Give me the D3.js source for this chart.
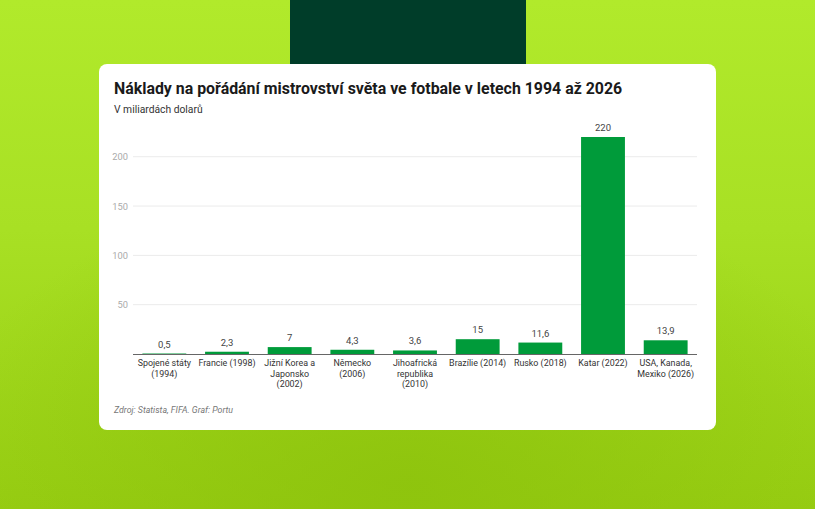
<!DOCTYPE html>
<html>
<head>
<meta charset="utf-8">
<script src="https://cdn.jsdelivr.net/npm/d3@7"></script>
<style>
  html, body { margin: 0; padding: 0; }
  body { width: 815px; height: 509px; overflow: hidden; font-family: Roboto, "Noto Sans", sans-serif; }
</style>
</head>
<body>
<svg id="chart" width="815" height="509"></svg>
<script>
const categories = [
  ["Spojené státy", "(1994)"],
  ["Francie (1998)"],
  ["Jižní Korea a", "Japonsko", "(2002)"],
  ["Německo", "(2006)"],
  ["Jihoafrická", "republika", "(2010)"],
  ["Brazílie (2014)"],
  ["Rusko (2018)"],
  ["Katar (2022)"],
  ["USA, Kanada,", "Mexiko (2026)"],
];
const values = [0.5, 2.3, 7, 4.3, 3.6, 15, 11.6, 220, 13.9];
const yTicks = [50, 100, 150, 200];

const title = "Náklady na pořádání mistrovství světa ve fotbale v letech 1994 až 2026";
const subtitle = "V miliardách dolarů";
const source = "Zdroj: Statista, FIFA. Graf: Portu";

const svg = d3.select("#chart");
const W = 815, H = 509;

// background
const defs = svg.append("defs");
const lin = defs.append("linearGradient").attr("id", "bg").attr("x1", 0).attr("y1", 0).attr("x2", 0).attr("y2", 1);
lin.append("stop").attr("offset", "0%").attr("stop-color", "#b1ea2b");
lin.append("stop").attr("offset", "45%").attr("stop-color", "#a8e024");
lin.append("stop").attr("offset", "100%").attr("stop-color", "#97cd12");
const rad = defs.append("radialGradient").attr("id", "glow")
  .attr("cx", 0.5).attr("cy", 0.95).attr("r", 0.6);
rad.append("stop").attr("offset", "0%").attr("stop-color", "#8cc20c").attr("stop-opacity", 0.8);
rad.append("stop").attr("offset", "100%").attr("stop-color", "#8cc20c").attr("stop-opacity", 0);

svg.append("rect").attr("width", W).attr("height", H).attr("fill", "url(#bg)");
svg.append("rect").attr("width", W).attr("height", H).attr("fill", "url(#glow)");
svg.append("rect").attr("x", 290).attr("y", 0).attr("width", 236).attr("height", 64).attr("fill", "#003d29");

// card
svg.append("rect").attr("x", 99).attr("y", 64).attr("width", 617).attr("height", 366)
  .attr("rx", 8).attr("fill", "#ffffff");

svg.append("text").attr("x", 114).attr("y", 94)
  .attr("font-size", 15.9).attr("font-weight", 700).attr("fill", "#1a1a1a")
  .text(title);
svg.append("text").attr("x", 114).attr("y", 113)
  .attr("font-size", 10.3).attr("fill", "#333")
  .text(subtitle);
svg.append("text").attr("x", 114).attr("y", 413)
  .attr("font-size", 8.8).attr("font-style", "italic").attr("fill", "#777")
  .text(source);

// chart
const x = d3.scaleBand().domain(d3.range(values.length)).range([133, 697]).paddingInner(0.3).paddingOuter(0.15);
const y = d3.scaleLinear().domain([0, 220]).range([354, 137]);

const g = svg.append("g");

g.selectAll(".grid").data(yTicks).join("line")
  .attr("x1", 133).attr("x2", 697)
  .attr("y1", d => y(d)).attr("y2", d => y(d))
  .attr("stroke", "#ebebeb").attr("stroke-width", 1);

g.selectAll(".ytick").data(yTicks).join("text")
  .attr("x", 128).attr("y", d => y(d) + 3.5)
  .attr("text-anchor", "end").attr("font-size", 9.3).attr("fill", "#aaa")
  .text(d => d);

g.selectAll(".bar").data(values).join("rect")
  .attr("x", (d, i) => x(i)).attr("width", x.bandwidth())
  .attr("y", d => y(d)).attr("height", d => y(0) - y(d))
  .attr("fill", "#009b3a");

g.append("line").attr("x1", 133).attr("x2", 697).attr("y1", y(0) + 0.5).attr("y2", y(0) + 0.5)
  .attr("stroke", "#666").attr("stroke-width", 1);

g.selectAll(".val").data(values).join("text")
  .attr("x", (d, i) => x(i) + x.bandwidth() / 2)
  .attr("y", d => y(d) - 6)
  .attr("text-anchor", "middle").attr("font-size", 9.5).attr("fill", "#444")
  .text(d => String(d).replace(".", ","));

const lbl = g.selectAll(".xl").data(categories).join("text")
  .attr("text-anchor", "middle").attr("font-size", 8.9).attr("fill", "#333");
lbl.each(function (lines, i) {
  const t = d3.select(this);
  lines.forEach((l, j) => {
    t.append("tspan").attr("x", x(i) + x.bandwidth() / 2).attr("y", 366 + j * 10.5).text(l);
  });
});
</script>
</body>
</html>
